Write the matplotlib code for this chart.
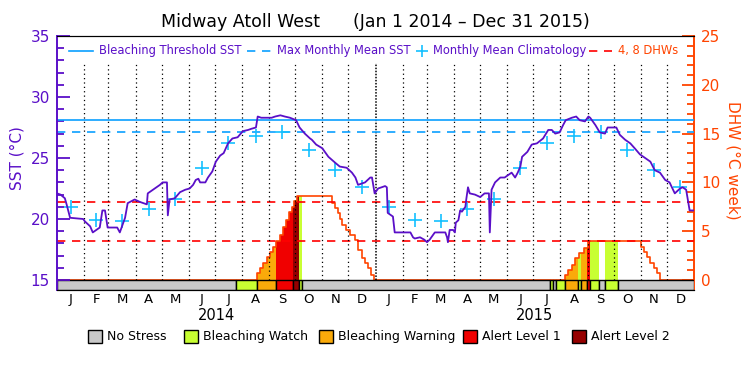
import numpy as np
import matplotlib.pyplot as plt
from matplotlib.patches import Rectangle
from matplotlib.lines import Line2D
import matplotlib.transforms as mtransforms

# day offsets from Jan 1 2014
sst_day = [0, 4, 9, 11, 15, 30, 32, 38, 41, 49, 52, 55, 58, 69, 72, 78, 81, 89, 95, 103, 104,
           112, 118, 121, 126, 127, 129, 135, 141, 147, 152, 156, 159, 162, 164, 170, 173,
           178, 182, 187, 191, 196, 201, 207, 213, 219, 223, 228, 230, 234, 238, 246, 250,
           256, 261, 267, 274, 278, 284, 290, 292, 297, 304, 311, 319, 324, 332, 338, 342,
           345, 353, 359, 361, 364, 368, 376, 378, 379, 385, 387, 405, 408, 410, 416, 421,
           424, 427, 433, 439, 445, 447, 448, 450, 454, 456, 457, 460, 462, 464, 468, 469,
           471, 473, 479, 485, 490, 495, 496, 498, 502, 508, 513, 517, 521, 525, 528, 531,
           533, 539, 544, 550, 557, 563, 567, 571, 576, 580, 583, 590, 595, 599, 605, 609,
           611, 617, 622, 628, 631, 636, 641, 645, 651, 657, 662, 668, 674, 680, 685, 691,
           697, 702, 708, 714, 717, 721, 725, 730]
sst_val = [22.1, 22.0, 21.7, 21.2, 20.1, 20.0, 19.8, 19.4, 18.9, 19.3, 20.7, 20.7, 19.3, 19.3, 18.9,
           20.1, 21.3, 21.6, 21.4, 21.2, 22.1,
           22.5, 22.8, 23.0, 23.0, 20.3, 21.6, 21.7, 22.2, 22.4, 22.5, 22.8, 23.2, 23.3, 23.0,
           23.0, 23.4,
           23.9, 24.7, 25.2, 25.4, 26.2, 26.6, 26.7, 27.2, 27.3, 27.4, 27.5, 28.4, 28.3, 28.3,
           28.3, 28.4,
           28.5, 28.4, 28.3, 28.1, 27.5, 27.0, 26.6, 26.5, 26.1, 25.8, 25.1, 24.6, 24.3, 24.2,
           23.8, 23.4,
           22.8, 23.0, 23.4, 23.4, 22.1, 22.5, 22.7, 22.6, 20.5, 20.2, 18.9, 18.9, 18.5, 18.4,
           18.5, 18.3,
           18.1, 18.3, 18.9, 18.9, 18.9, 18.5, 18.1, 19.1, 19.1, 18.9, 19.7, 19.9, 20.7, 20.6,
           21.0, 21.6,
           22.6, 22.1, 22.0, 21.8, 22.1, 22.1, 18.9, 22.4, 23.0, 23.4, 23.4, 23.6, 23.8, 23.4,
           23.8, 24.3,
           25.1, 25.5, 26.1, 26.2, 26.6, 27.3, 27.3, 27.0, 27.1, 27.7, 28.1, 28.3, 28.4, 28.1,
           28.0, 28.4,
           28.3, 27.7, 27.1, 27.0, 27.5, 27.5, 27.5, 26.9, 26.5, 26.2, 25.8, 25.3, 25.0, 24.7,
           24.0, 23.8,
           23.2, 23.0, 22.1, 22.5, 22.6, 22.4, 20.7, 20.7]

# monthly mean climatology (Jan..Dec)
clim = [21.0, 19.95, 19.85, 20.8, 21.6, 24.2, 26.2, 26.8, 27.1, 25.65, 24.0, 22.6]
threshold = 28.1
mmm = 27.1
dhw_levels = [4, 8]

# degree heating weeks, step values starting at each day
dhw_day = [0, 229, 233, 236, 241, 244, 248, 251, 256, 259, 262, 266, 269, 272, 275, 315, 319,
           322, 324, 327, 331, 336, 342, 345, 350, 353, 356, 360, 363, 582, 586, 590, 594, 598,
           604, 609, 669, 673, 676, 680, 684, 688, 691]
dhw_val = [0, 0.7, 1.2, 1.75, 2.35, 2.9, 3.4, 4.0, 4.6, 5.4, 6.1, 7.0, 7.5, 8.1, 8.6, 7.9, 7.4,
           6.9, 6.25, 5.6, 5.1, 4.6, 4.1, 3.1, 2.25, 1.75, 1.2, 0.5, 0, 0.5, 1.0, 1.55, 2.25, 2.75,
           3.3, 4.0, 3.4, 2.9, 2.35, 1.75, 1.2, 0.7, 0]

# stress level periods: 0 none, 1 watch, 2 warning, 3 alert 1, 4 alert 2
stress_start = [0, 205, 229, 251, 270, 277, 281, 565, 568, 572, 582, 597, 600, 607, 611, 621, 628, 643]
stress_level = [0, 1, 2, 3, 4, 1, 0, 1, 0, 1, 2, 1, 2, 3, 1, 0, 1, 0]
stress_names = ['No Stress', 'Bleaching Watch', 'Bleaching Warning', 'Alert Level 1', 'Alert Level 2']
stress_colors = ['#C8C8C8', '#C8FF32', '#FAAA0A', '#F00000', '#960000']

purple = '#5A0FC8'
orange = '#FF4400'
blue = '#0AA0FF'
cyan = '#14C0FF'

start = np.datetime64('2014-01-01')
months = np.arange(np.datetime64('2014-01'), np.datetime64('2016-01')).astype('datetime64[D]')
month_day = (months - start).astype(int)
month_end = np.append(month_day[1:], 730)
month_mid = (month_day + month_end) / 2
ndays = 730

fig = plt.figure(figsize=(7.5, 3.75), dpi=100)
ax = fig.add_axes([57 / 750, 85 / 375, 637 / 750, 254 / 375])
ax2 = ax.twinx()
ax.set_zorder(ax2.get_zorder() + 1)
ax.patch.set_visible(False)

ax.set_xlim(0, ndays)
ax.set_ylim(15 - 10 / 12.2, 35)
ax2.set_ylim(-10 / 9.76, 25)

# stress bar and DHW fill
stress_end = stress_start[1:] + [ndays]
days = np.arange(ndays + 1)
dhw_daily = np.array(dhw_val)[np.searchsorted(dhw_day, days, side='right') - 1]
for s, e, lv in zip(stress_start, stress_end, stress_level):
    ax2.bar(s, 10 / 9.76, width=e - s, bottom=-10 / 9.76, align='edge',
            color=stress_colors[lv], edgecolor='black', lw=1, zorder=4)
    if lv > 0:
        ax2.fill_between(days[s:e + 1], dhw_daily[s:e + 1], step='post',
                         color=stress_colors[lv], lw=0, zorder=1)
ax2.plot(dhw_day + [ndays], dhw_val + [0], drawstyle='steps-post', color=orange, lw=1.2, zorder=2)
for lv in dhw_levels:
    ax2.axhline(lv, color='#FF0000', lw=1.2, dashes=(5, 4), zorder=3)

# month grid
for d in month_day[1:]:
    if d == 365:
        ax.vlines(d, 15, 32.8, colors='black', lw=1.1, linestyles=(0, (1, 1)))
    else:
        ax.vlines(d, 15, 32.8, colors='black', lw=0.9, linestyles=(0, (1, 2.5)))

ax.axhline(threshold, color=blue, lw=1.2)
ax.axhline(mmm, color=blue, lw=1.2, dashes=(5, 4))
ax.plot(month_mid, clim * 2, ls='none', marker='+', ms=10, mew=1.2, color=cyan)
ax.plot(sst_day, sst_val, color=purple, lw=1.3)

# axes styling
for a in (ax, ax2):
    a.spines['top'].set_color('black')
    a.spines['bottom'].set_color('black')
ax.spines['right'].set_visible(False)
ax2.spines['left'].set_visible(False)
ax.spines['left'].set_color(purple)
ax.spines['left'].set_linewidth(1.4)
ax2.spines['right'].set_color(orange)
ax2.spines['right'].set_linewidth(1.4)

ax.set_yticks([15, 20, 25, 30, 35])
ax.set_yticks(np.arange(15, 36), minor=True)
ax.tick_params(axis='y', which='major', direction='in', length=9, width=1.3,
               color=purple, labelcolor=purple, labelsize=11, pad=5)
ax.tick_params(axis='y', which='minor', direction='in', length=5, width=1.3, color=purple)
ax2.set_yticks([0, 5, 10, 15, 20, 25])
ax2.set_yticks(np.arange(0, 26), minor=True)
ax2.tick_params(axis='y', which='major', direction='in', length=9, width=1.3,
                color=orange, labelcolor=orange, labelsize=11, pad=5)
ax2.tick_params(axis='y', which='minor', direction='in', length=5, width=1.3, color=orange)

ax.set_xticks(month_mid)
ax.set_xticklabels(['J', 'F', 'M', 'A', 'M', 'J', 'J', 'A', 'S', 'O', 'N', 'D'] * 2)
ax.tick_params(axis='x', length=0, labelsize=9.5, pad=2.5)

trans = mtransforms.blended_transform_factory(ax.transData, fig.transFigure)
for yr, d in zip(['2014', '2015'], [182.5, 547.5]):
    ax.text(d, (375 - 315) / 375, yr, transform=trans, ha='center', va='center', fontsize=10.5)

fig.text(0.5, (375 - 22) / 375, 'Midway Atoll West      (Jan 1 2014 \u2013 Dec 31 2015)',
         ha='center', va='center', fontsize=12.5)
fig.text(17 / 750, (375 - 158) / 375, 'SST (\u00b0C)', rotation=90, ha='center', va='center',
         color=purple, fontsize=11)
fig.text(733 / 750, (375 - 160) / 375, 'DHW (\u00b0C week)', rotation=270, ha='center',
         va='center', color=orange, fontsize=11)

# top legend
ly = (290 - 50.5) / 254
def px(x):
    return (x - 57) / 637
ax.add_line(Line2D([px(69), px(93)], [ly, ly], color=blue, lw=1.2, transform=ax.transAxes))
ax.text(px(99), ly, 'Bleaching Threshold SST', color=purple, fontsize=8.3, va='center',
        transform=ax.transAxes)
ax.add_line(Line2D([px(247), px(272)], [ly, ly], color=blue, lw=1.2, dashes=(5, 4),
                   transform=ax.transAxes))
ax.text(px(277), ly, 'Max Monthly Mean SST', color=purple, fontsize=8.3, va='center',
        transform=ax.transAxes)
ax.plot([px(422)], [ly], marker='+', ms=9, mew=1.2, color=cyan, transform=ax.transAxes)
ax.text(px(433), ly, 'Monthly Mean Climatology', color=purple, fontsize=8.3, va='center',
        transform=ax.transAxes)
ax.add_line(Line2D([px(589), px(612)], [ly, ly], color='#FF0000', lw=1.2, dashes=(5, 4),
                   transform=ax.transAxes))
ax.text(px(618), ly, '4, 8 DHWs', color=orange, fontsize=8.3, va='center',
        transform=ax.transAxes)

# bottom legend
box_x = [88, 184, 319, 463, 572]
for bx, name, col in zip(box_x, stress_names, stress_colors):
    fig.patches.append(Rectangle((bx / 750, (375 - 343) / 375), 14 / 750, 13 / 375,
                                 transform=fig.transFigure, facecolor=col,
                                 edgecolor='black', lw=1))
    fig.text((bx + 19) / 750, (375 - 336.5) / 375, name, ha='left', va='center', fontsize=9)

fig.savefig('out.png', dpi=100)
